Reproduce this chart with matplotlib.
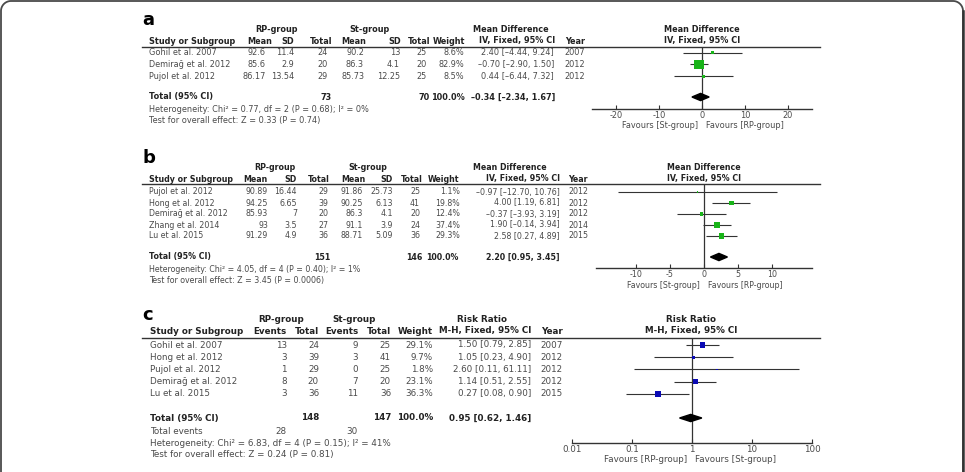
import matplotlib
matplotlib.use('Agg')
import matplotlib.pyplot as plt
from matplotlib.patches import Polygon
from matplotlib.ticker import FixedLocator, FixedFormatter, NullLocator
import numpy as np

plt.rcParams['axes.unicode_minus'] = False

W, H, DPI = 965, 472, 100

# ---------------- data: panel a ----------------
a_studies = ["Gohil et al. 2007", "Demirağ et al. 2012", "Pujol et al. 2012"]
a_rp_mean = [92.6, 85.6, 86.17]
a_rp_sd = [11.4, 2.9, 13.54]
a_rp_n = [24, 20, 29]
a_st_mean = [90.2, 86.3, 85.73]
a_st_sd = [13, 4.1, 12.25]
a_st_n = [25, 20, 25]
a_weight = [8.6, 82.9, 8.5]
a_est = [2.40, -0.70, 0.44]
a_lo = [-4.44, -2.90, -6.44]
a_hi = [9.24, 1.50, 7.32]
a_year = [2007, 2012, 2012]
a_total = dict(rp_n=73, st_n=70, est=-0.34, lo=-2.34, hi=1.67)
a_het = "Heterogeneity: Chi² = 0.77, df = 2 (P = 0.68); I² = 0%"
a_test = "Test for overall effect: Z = 0.33 (P = 0.74)"
a_ticks = [-20, -10, 0, 10, 20]
a_ticklabels = ["-20", "-10", "0", "10", "20"]

# ---------------- data: panel b ----------------
b_studies = ["Pujol et al. 2012", "Hong et al. 2012", "Demirağ et al. 2012",
             "Zhang et al. 2014", "Lu et al. 2015"]
b_rp_mean = [90.89, 94.25, 85.93, 93, 91.29]
b_rp_sd = [16.44, 6.65, 7, 3.5, 4.9]
b_rp_n = [29, 39, 20, 27, 36]
b_st_mean = [91.86, 90.25, 86.3, 91.1, 88.71]
b_st_sd = [25.73, 6.13, 4.1, 3.9, 5.09]
b_st_n = [25, 41, 20, 24, 36]
b_weight = [1.1, 19.8, 12.4, 37.4, 29.3]
b_est = [-0.97, 4.00, -0.37, 1.90, 2.58]
b_lo = [-12.70, 1.19, -3.93, -0.14, 0.27]
b_hi = [10.76, 6.81, 3.19, 3.94, 4.89]
b_year = [2012, 2012, 2012, 2014, 2015]
b_total = dict(rp_n=151, st_n=146, est=2.20, lo=0.95, hi=3.45)
b_het = "Heterogeneity: Chi² = 4.05, df = 4 (P = 0.40); I² = 1%"
b_test = "Test for overall effect: Z = 3.45 (P = 0.0006)"
b_ticks = [-10, -5, 0, 5, 10]
b_ticklabels = ["-10", "-5", "0", "5", "10"]

# ---------------- data: panel c ----------------
c_studies = ["Gohil et al. 2007", "Hong et al. 2012", "Pujol et al. 2012",
             "Demirağ et al. 2012", "Lu et al. 2015"]
c_rp_ev = [13, 3, 1, 8, 3]
c_rp_n = [24, 39, 29, 20, 36]
c_st_ev = [9, 3, 0, 7, 11]
c_st_n = [25, 41, 25, 20, 36]
c_weight = [29.1, 9.7, 1.8, 23.1, 36.3]
c_est = [1.50, 1.05, 2.60, 1.14, 0.27]
c_lo = [0.79, 0.23, 0.11, 0.51, 0.08]
c_hi = [2.85, 4.90, 61.11, 2.55, 0.90]
c_year = [2007, 2012, 2012, 2012, 2015]
c_total = dict(rp_n=148, st_n=147, rp_ev=28, st_ev=30, est=0.95, lo=0.62, hi=1.46)
c_het = "Heterogeneity: Chi² = 6.83, df = 4 (P = 0.15); I² = 41%"
c_test = "Test for overall effect: Z = 0.24 (P = 0.81)"
c_ticks = [0.01, 0.1, 1, 10, 100]
c_ticklabels = ["0.01", "0.1", "1", "10", "100"]

GREEN = '#19b419'
BLUE = '#0a0ab4'
DARK = '#222222'
GREY = '#4a4a4a'
LINE = '#333333'

fig = plt.figure(figsize=(W / DPI, H / DPI), dpi=DPI)
fig.patch.set_facecolor('white')
tab = fig.add_axes([0, 0, 1, 1])
tab.set_xlim(0, W)
tab.set_ylim(H, 0)
tab.axis('off')

# outer frame: open at the bottom, rounded top corners
t = np.linspace(0, np.pi / 2, 25)
r = 10
tl_x, tl_y = 11 - r * np.cos(t), 11 - r * np.sin(t)
tr_x, tr_y = 953 + r * np.sin(t), 11 - r * np.cos(t)
fx = np.concatenate([[1], tl_x, tr_x, [963]])
fy = np.concatenate([[480], tl_y, tr_y, [480]])
tab.plot(fx, fy, color='#4a4a4a', lw=1.3, clip_on=False, solid_joinstyle='round')
tab.plot([963.3, 963.3], [11, 480], color='#333333', lw=1.8, clip_on=False)


def fmt(v):
    return f"{v:g}"


def ci_txt(e, l, h):
    s = f"{e:.2f} [{l:.2f}, {h:.2f}]"
    return s.replace('-', '–')


def T(x, y, s, ha='right', fs=6, bold=False, color=None):
    tab.text(x, y, s, ha=ha, va='center', fontsize=fs,
             fontweight='bold' if bold else 'normal',
             color=color if color else (DARK if bold else GREY),
             family='DejaVu Sans')


def forest(x0, x1, ytop, ybot, xlim, log, ticks, ticklabels, ys, est, lo, hi, weight,
           color, ty, te, tl, th, fs, ref):
    ax = fig.add_axes([x0 / W, 1 - ybot / H, (x1 - x0) / W, (ybot - ytop) / H])
    ax.set_facecolor('none')
    if log:
        ax.set_xscale('log')
    ax.set_xlim(*xlim)
    ax.set_ylim(ybot, ytop)
    for sp in ['top', 'left', 'right']:
        ax.spines[sp].set_visible(False)
    ax.spines['bottom'].set_color(LINE)
    ax.spines['bottom'].set_linewidth(1.0)
    ax.yaxis.set_visible(False)
    ax.xaxis.set_major_locator(FixedLocator(ticks))
    ax.xaxis.set_major_formatter(FixedFormatter(ticklabels))
    ax.xaxis.set_minor_locator(NullLocator())
    ax.tick_params(axis='x', direction='in', length=3, width=0.8, color=LINE,
                   labelsize=fs, labelcolor=GREY, pad=1.5)
    ax.axvline(ref, color=LINE, lw=0.9, zorder=1)
    ax.hlines(ys, lo, hi, color=LINE, lw=0.8, zorder=2)
    side_pt = np.sqrt(np.array(weight)) * 1.05 * 72 / DPI
    ax.scatter(est, ys, s=side_pt ** 2, marker='s', color=color, linewidths=0, zorder=3)
    dh = 3.6
    ax.add_patch(Polygon([(tl, ty), (te, ty - dh), (th, ty), (te, ty + dh)],
                         closed=True, color='black', zorder=3))
    return ax


def md_panel(label, studies, rp_mean, rp_sd, rp_n, st_mean, st_sd, st_n, weight, est, lo, hi,
             year, total, het, test, ticks, ticklabels, L):
    fs = L['fs']
    T(142, L['lab_y'], label, ha='left', fs=13, bold=True, color='black')
    gy, hy = L['grp_y'], L['head_y']
    T(L['grp'][0], gy, "RP-group", ha='center', fs=fs, bold=True)
    T(L['grp'][1], gy, "St-group", ha='center', fs=fs, bold=True)
    T(L['grp'][2], gy, "Mean Difference", ha='center', fs=fs, bold=True)
    T(L['fc'], gy, "Mean Difference", ha='center', fs=fs, bold=True)
    T(L['fc'], hy, "IV, Fixed, 95% CI", ha='center', fs=fs, bold=True)
    T(149, hy, "Study or Subgroup", ha='left', fs=fs, bold=True)
    heads = ["Mean", "SD", "Total", "Mean", "SD", "Total", "Weight", "IV, Fixed, 95% CI", "Year"]
    for hx, s in zip(L['hx'], heads):
        T(hx, hy, s, fs=fs, bold=True)
    tab.plot([142, 820], [L['line_y'], L['line_y']], color=LINE, lw=1.0)
    ys = [L['row0'] + i * L['step'] for i in range(len(studies))]
    vx = L['vx']
    for i, y in enumerate(ys):
        T(149, y, studies[i], ha='left', fs=fs)
        vals = [fmt(rp_mean[i]), fmt(rp_sd[i]), str(rp_n[i]), fmt(st_mean[i]), fmt(st_sd[i]),
                str(st_n[i]), f"{weight[i]:.1f}%", ci_txt(est[i], lo[i], hi[i]), str(year[i])]
        for x, s in zip(vx, vals):
            T(x, y, s, fs=fs)
    ty = L['tot_y']
    T(149, ty, "Total (95% CI)", ha='left', fs=fs, bold=True)
    T(L['hx'][2], ty, str(total['rp_n']), fs=fs, bold=True)
    T(L['hx'][5], ty, str(total['st_n']), fs=fs, bold=True)
    T(L['hx'][6], ty, "100.0%", fs=fs, bold=True)
    T(L['hx'][7], ty, ci_txt(total['est'], total['lo'], total['hi']), fs=fs, bold=True)
    T(149, L['het_y'], het, ha='left', fs=fs)
    T(149, L['test_y'], test, ha='left', fs=fs)
    fx0, fx1 = L['fx']
    forest(fx0, fx1, L['line_y'], L['axis_y'], L['xlim'], False, ticks, ticklabels, ys, est, lo,
           hi, weight, GREEN, ty, total['est'], total['lo'], total['hi'], fs, 0)
    T(L['fz'] - 4, L['fav_y'], "Favours [St-group]", ha='right', fs=fs)
    T(L['fz'] + 4, L['fav_y'], "Favours [RP-group]", ha='left', fs=fs)


LA = dict(fs=5.9, lab_y=20, grp_y=29, head_y=41, line_y=46.7, row0=52.7, step=11.7,
          tot_y=97, het_y=110, test_y=121, axis_y=109, fav_y=126,
          grp=[277, 370, 511], fc=702, fz=702, fx=(592, 812), xlim=(-25.6, 25.6),
          hx=[272, 294, 332, 366, 401, 430, 465, 555, 585],
          vx=[266, 294, 328, 364, 400, 427, 464, 554, 585])
md_panel("a", a_studies, a_rp_mean, a_rp_sd, a_rp_n, a_st_mean, a_st_sd, a_st_n, a_weight,
         a_est, a_lo, a_hi, a_year, a_total, a_het, a_test, a_ticks, a_ticklabels, LA)

LB = dict(fs=5.7, lab_y=158, grp_y=168, head_y=179, line_y=184, row0=192, step=11,
          tot_y=257, het_y=269, test_y=280, axis_y=268, fav_y=285,
          grp=[275, 368, 510], fc=704, fz=704, fx=(596, 812), xlim=(-15.9, 15.9),
          hx=[268, 297, 330, 365, 393, 423, 459, 560, 588],
          vx=[268, 297, 328, 363, 393, 420, 460, 560, 588])
md_panel("b", b_studies, b_rp_mean, b_rp_sd, b_rp_n, b_st_mean, b_st_sd, b_st_n, b_weight,
         b_est, b_lo, b_hi, b_year, b_total, b_het, b_test, b_ticks, b_ticklabels, LB)

# ---------------- panel c (risk ratio) ----------------
fs = 6.3
T(142, 315, "c", ha='left', fs=13, bold=True, color='black')
T(281, 319, "RP-group", ha='center', fs=fs, bold=True)
T(354, 319, "St-group", ha='center', fs=fs, bold=True)
T(482, 319, "Risk Ratio", ha='center', fs=fs, bold=True)
T(691, 319, "Risk Ratio", ha='center', fs=fs, bold=True)
T(691, 331, "M-H, Fixed, 95% CI", ha='center', fs=fs, bold=True)
T(150, 331, "Study or Subgroup", ha='left', fs=fs, bold=True)
c_hx = [287, 319, 358, 391, 433, 531, 563]
for hx, s in zip(c_hx, ["Events", "Total", "Events", "Total", "Weight",
                        "M-H, Fixed, 95% CI", "Year"]):
    T(hx, 331, s, fs=fs, bold=True)
tab.plot([142, 820], [338, 338], color=LINE, lw=1.0)
c_ys = [345 + i * 12.2 for i in range(len(c_studies))]
for i, y in enumerate(c_ys):
    T(150, y, c_studies[i], ha='left', fs=fs)
    vals = [str(c_rp_ev[i]), str(c_rp_n[i]), str(c_st_ev[i]), str(c_st_n[i]),
            f"{c_weight[i]:.1f}%", ci_txt(c_est[i], c_lo[i], c_hi[i]), str(c_year[i])]
    for x, s in zip(c_hx, vals):
        T(x, y, s, fs=fs)
T(150, 418, "Total (95% CI)", ha='left', fs=fs, bold=True)
T(319, 418, str(c_total['rp_n']), fs=fs, bold=True)
T(391, 418, str(c_total['st_n']), fs=fs, bold=True)
T(433, 418, "100.0%", fs=fs, bold=True)
T(531, 418, ci_txt(c_total['est'], c_total['lo'], c_total['hi']), fs=fs, bold=True)
T(150, 431, "Total events", ha='left', fs=fs)
T(287, 431, str(c_total['rp_ev']), fs=fs)
T(358, 431, str(c_total['st_ev']), fs=fs)
T(150, 443, c_het, ha='left', fs=fs)
T(150, 454, c_test, ha='left', fs=fs)
forest(572, 812, 338, 443, (0.01, 100), True, c_ticks, c_ticklabels, c_ys, c_est, c_lo, c_hi,
       c_weight, BLUE, 418, c_total['est'], c_total['lo'], c_total['hi'], fs, 1)
T(687, 460, "Favours [RP-group]", ha='right', fs=fs)
T(695, 460, "Favours [St-group]", ha='left', fs=fs)

fig.savefig('out.png', dpi=DPI, facecolor='white')
